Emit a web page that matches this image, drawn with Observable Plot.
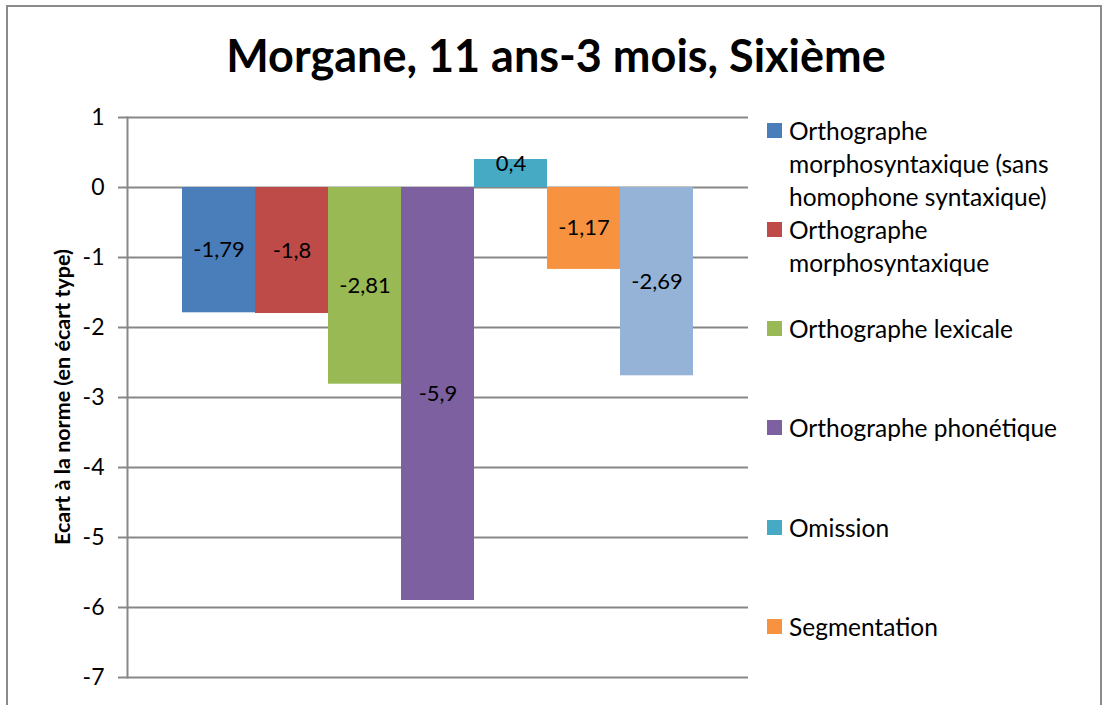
<!DOCTYPE html>
<html>
<head>
<meta charset="utf-8">
<script src="https://cdn.jsdelivr.net/npm/d3@7"></script>
<script src="https://cdn.jsdelivr.net/npm/@observablehq/plot@0.6"></script>
<style>
  html, body { margin: 0; padding: 0; background: #fff; overflow: hidden; }
  #page { position: relative; width: 1112px; height: 705px; font-family: Lato, "Open Sans", sans-serif; }
  #border { position: absolute; left: 6px; top: 5px; width: 1096px; height: 720px; border: 2px solid #8a8a8a; box-sizing: border-box; }
  #title { position: absolute; left: 0; width: 1112px; top: 28px; line-height: 54px; text-align: center; font-weight: bold; font-size: 45px; color: #000; }
  #chart { position: absolute; left: 0; top: 0; }
  #ylabel { position: absolute; left: 62px; top: 397px; transform: translate(-50%, -50%) rotate(-90deg); white-space: nowrap; font-weight: bold; font-size: 21.5px; color: #000; }
  #legend { position: absolute; left: 767px; top: 0; }
  .entry { position: absolute; left: 0; display: flex; align-items: flex-start; width: 330px; }
  .sw { width: 15px; height: 15px; margin-top: 9px; margin-right: 7px; flex: none; }
  .lt { font-size: 24.5px; line-height: 33px; width: 300px; color: #000; }
</style>
</head>
<body>
<div id="page">
  <div id="border"></div>
  <div id="title"></div>
  <div id="chart"></div>
  <div id="ylabel"></div>
  <div id="legend"></div>
</div>
<script>
const titleText = "Morgane, 11 ans-3 mois, Sixième";
const yLabelText = "Ecart à la norme (en écart type)";
const categories = [
  "Orthographe morphosyntaxique (sans homophone syntaxique)",
  "Orthographe morphosyntaxique",
  "Orthographe lexicale",
  "Orthographe phonétique",
  "Omission",
  "Segmentation",
  "Homophones syntaxiques"
];
const values = [-1.79, -1.8, -2.81, -5.9, 0.4, -1.17, -2.69];
const colors = ["#4A7EBB", "#BE4B48", "#98B954", "#7D60A0", "#46AAC5", "#F69240", "#95B3D7"];
const yTicks = [1, 0, -1, -2, -3, -4, -5, -6, -7];
const visibleLegendCount = 6;

const data = categories.map((c, i) => ({cat: c, value: values[i], label: String(values[i]).replace(".", ",")}));

document.getElementById("title").textContent = titleText;
document.getElementById("ylabel").textContent = yLabelText;

const grid = "#878787";
const chart = Plot.plot({
  width: 1112,
  height: 705,
  marginTop: 117,
  marginBottom: 28,
  marginLeft: 127,
  marginRight: 364,
  style: {fontFamily: "Lato, 'Open Sans', sans-serif", background: "transparent"},
  x: {domain: categories, paddingInner: 0, paddingOuter: 0.75, axis: null},
  y: {domain: [-7, 1]},
  color: {domain: categories, range: colors},
  marks: [
    Plot.gridY(yTicks, {stroke: grid, strokeOpacity: 1, strokeWidth: 2}),
    Plot.axisY(yTicks, {tickSize: 9, tickPadding: 14, fontSize: 23, stroke: grid, strokeWidth: 2, color: "#000", label: null, tickFormat: d => String(d)}),
    Plot.frame({anchor: "left", stroke: grid, strokeWidth: 2}),
    Plot.barY(data, {x: "cat", y: "value", fill: "cat"}),
    Plot.text(data, {x: "cat", y: d => d.value > 0 ? d.value * 0.85 : d.value / 2, text: "label", fontSize: 22, fill: "#000"})
  ]
});
document.getElementById("chart").appendChild(chart);

const legend = document.getElementById("legend");
categories.slice(0, visibleLegendCount).forEach((c, i) => {
  const e = document.createElement("div");
  e.className = "entry";
  e.style.top = (130 - 16.5 + i * 99.3) + "px";
  const s = document.createElement("div");
  s.className = "sw";
  s.style.background = colors[i];
  const t = document.createElement("div");
  t.className = "lt";
  t.textContent = c;
  e.appendChild(s); e.appendChild(t);
  legend.appendChild(e);
});
</script>
</body>
</html>
